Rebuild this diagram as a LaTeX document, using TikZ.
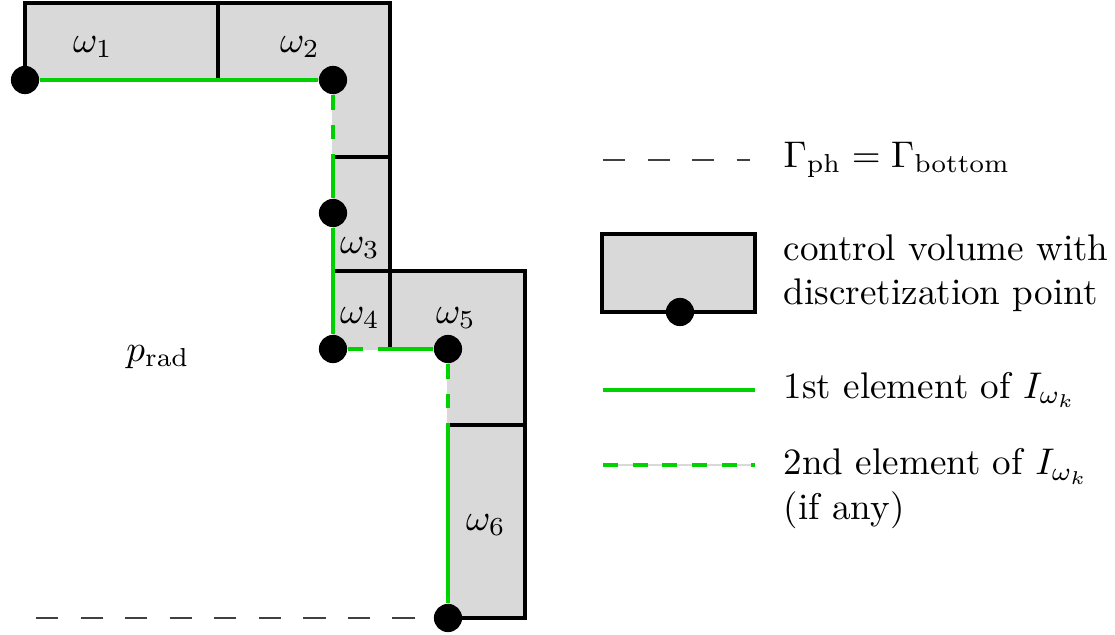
\documentclass[tikz,border=0pt]{standalone}
\usetikzlibrary{positioning}
\definecolor{ifgreen}{RGB}{0,210,0}
\definecolor{cvgray}{RGB}{217,217,217}
\tikzset{
	cv/.style={fill=cvgray, draw=none},
	wall/.style={draw=black, line width=0.85pt, line cap=rect},
	dot/.style={circle, fill=black, inner sep=0pt, minimum size=7.6pt},
	first/.style={draw=ifgreen, line width=1pt},
	second/.style={draw=ifgreen, line width=1pt, dash pattern=on 4pt off 4pt,
		preaction={draw=black!15, line width=0.3pt, solid}},
	gammaph/.style={draw=black!75, line width=0.45pt, dash pattern=on 6pt off 6pt},
	legtext/.style={anchor=west, align=left, inner sep=0pt}
}
\begin{document}
\begin{tikzpicture}[x=0.0947mm, y=-0.0947mm]
	\useasboundingbox (0,0) rectangle (1115,634);

	% control volumes
	\fill[cv] (25,3) -- (390,3) -- (390,271) -- (525,271) -- (525,618) -- (448,618)
		-- (448,349) -- (333,349) -- (333,80) -- (25,80) -- cycle;
	\draw[wall] (25,80) -- (25,3) -- (390,3) -- (390,349);
	\draw[wall] (218,3) -- (218,80);
	\draw[wall] (333,157) -- (390,157);
	\draw[wall] (333,271) -- (525,271) -- (525,618) -- (448,618);
	\draw[wall] (448,425) -- (525,425);

	% discretization points
	\node[dot] (d1) at (25,80) {};
	\node[dot] (d2) at (333,80) {};
	\node[dot] (d3) at (333,213) {};
	\node[dot] (d4) at (333,349) {};
	\node[dot] (d5) at (448,349) {};
	\node[dot] (d6) at (448,618) {};
	\coordinate (c23) at (333,157);
	\coordinate (c45) at (390,349);
	\coordinate (c56) at (448,425);
	\coordinate (g0) at (36,618);

	\draw[first] (d1) -- (d2);
	\draw[second] (d2) -- (c23);
	\draw[first] (c23) -- (d3) -- (d4);
	\draw[second] (d4) -- (c45);
	\draw[first] (c45) -- (d5);
	\draw[second] (d5) -- (c56);
	\draw[first] (c56) -- (d6);
	\draw[gammaph] (g0) -- (d6);

	\node (w1) at (93,47) {$\omega_1$};
	\node (w2) at (300,47) {$\omega_2$};
	\node (w3) at (360,248) {$\omega_3$};
	\node (w4) at (360,318) {$\omega_4$};
	\node (w5) at (456,318) {$\omega_5$};
	\node (w6) at (486,525) {$\omega_6$};
	\node (prad) at (158,357) {$p_{\mathrm{rad}}$};

	% legend
	\coordinate (la) at (603,160);
	\coordinate (lb) at (750,160);
	\draw[gammaph] (la) -- (lb);
	\node[legtext] (t1) at (783,160) {$\Gamma_{\mathrm{ph}} = \Gamma_{\mathrm{bottom}}$};

	\draw[cv] (602,234) rectangle (755,312);
	\draw[wall] (602,234) rectangle (755,312);
	\node[dot] (ld) at (680,312) {};
	\node[legtext] (t2) at (783,273) {control volume with\\discretization point};

	\coordinate (lc) at (603,390);
	\coordinate (ldd) at (755,390);
	\draw[first] (lc) -- (ldd);
	\node[legtext] (t3) at (783,390) {1st element of $I_{\omega_k}$};

	\coordinate (le) at (603,465);
	\coordinate (lf) at (755,465);
	\draw[second] (le) -- (lf);
	\node[legtext, anchor=north west] (t4) at (783,448) {2nd element of $I_{\omega_k}$\\(if any)};
\end{tikzpicture}
\end{document}
